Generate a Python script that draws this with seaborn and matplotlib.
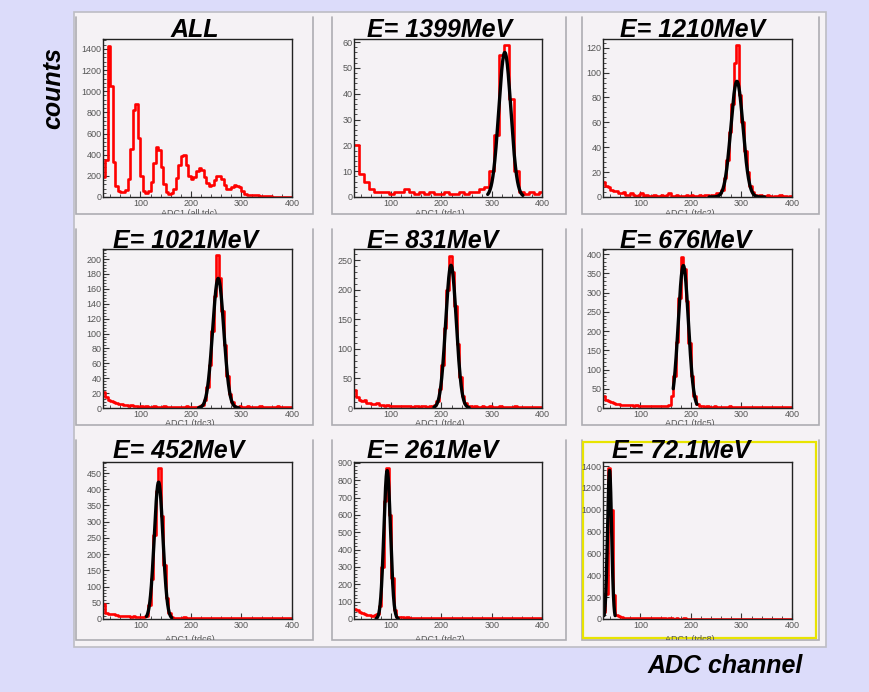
import numpy as np
import pandas as pd
import seaborn as sns
import matplotlib
matplotlib.use("Agg")
import matplotlib.pyplot as plt
from matplotlib.patches import Rectangle
from matplotlib.lines import Line2D
from matplotlib.ticker import MultipleLocator, AutoMinorLocator

sns.set_theme(style="white")
plt.rcParams["font.family"] = ["Liberation Sans", "DejaVu Sans"]

# ---------------------------------------------------------------- data
TITLES = ["ALL", "E= 1399MeV", "E= 1210MeV", "E= 1021MeV", "E= 831MeV",
          "E= 676MeV", "E= 452MeV", "E= 261MeV", "E= 72.1MeV"]
AXIS_TITLES = ["ADC1 (all tdc)", "ADC1 (tdc1)", "ADC1 (tdc2)", "ADC1 (tdc3)",
               "ADC1 (tdc4)", "ADC1 (tdc5)", "ADC1 (tdc6)", "ADC1 (tdc7)",
               "ADC1 (tdc8)"]

# histogram binning (ADC channels): first edge and bin width per pad
BIN_START = 25
BIN_WIDTH = [5, 10, 5, 5, 5, 5, 5, 5, 5]

counts_all = [190, 350, 1430, 1050, 330, 100, 55, 45, 50, 70,
              170, 450, 820, 880, 560, 200, 55, 40, 60, 140,
              320, 470, 440, 280, 120, 45, 30, 35, 80, 180,
              300, 390, 400, 300, 200, 170, 190, 245, 270, 255,
              190, 130, 105, 115, 160, 195, 200, 170, 115, 80,
              75, 95, 110, 105, 90, 60, 30, 22, 20, 22,
              20, 15, 10, 8, 6, 5, 5, 4, 3, 3,
              3, 2, 2, 2, 2]
counts_tdc1 = [20, 9, 6, 3, 2, 2, 2, 1, 2, 2,
               3, 2, 1, 2, 1, 2, 1, 1, 2, 1,
               1, 2, 1, 2, 2, 3, 4, 10, 24, 55,
               59, 38, 10, 2, 1, 2, 1, 2]
counts_tdc2 = [12, 9, 8, 6, 5, 5, 3, 3, 4, 2, 2, 3, 2, 1, 2, 3, 1, 2, 1, 1,
               2, 1, 1, 2, 1, 2, 3, 1, 1, 2, 1, 1, 1, 2, 1, 2, 1, 1, 2, 1,
               2, 2, 1, 2, 2,
               3, 3, 6, 15, 30, 52, 75, 108, 122, 82, 60, 37, 20, 9, 4, 2,
               1, 2, 1, 1, 2, 1, 0, 1, 1, 2, 1, 1, 0, 1]
counts_tdc3 = [22, 15, 11, 10, 8, 7, 6, 5, 4, 4, 3, 4, 3, 3, 2, 3, 2, 3, 2, 2,
               3, 2, 1, 2, 3, 2, 2, 1, 2, 2, 1, 2, 2, 3, 2, 1, 2, 2,
               3, 4, 11, 28, 58, 104, 150, 205, 175, 130, 84, 43, 19, 8, 3,
               2, 3, 2, 2, 3, 2, 1, 2, 2, 3, 2, 1, 2, 2, 1, 2, 3, 2, 1, 2,
               1, 2]
counts_tdc4 = [30, 18, 14, 12, 13, 9, 8, 7, 6, 8, 5, 5, 4, 5, 4, 3, 4, 3, 4, 3,
               3, 4, 3, 2, 3, 3, 2, 3, 3, 2, 3,
               4, 5, 12, 32, 72, 135, 200, 257, 230, 172, 108, 52, 21, 8, 4,
               3, 2, 3, 2, 2, 3, 2, 2, 3, 2, 1, 2, 3, 2, 2, 1, 2, 2, 3, 2,
               2, 1, 2, 2, 2, 1, 2, 2, 1]
counts_tdc5 = [32, 22, 17, 15, 12, 11, 10, 9, 9, 8, 7, 7, 6, 7, 6, 5, 6, 5, 5,
               6, 5, 4, 5, 4, 5,
               5, 9, 31, 82, 172, 285, 393, 362, 278, 168, 82, 31, 10, 4,
               4, 3, 4, 3, 3, 4, 3, 3, 2, 3, 3, 4, 3, 2, 3, 3, 2, 3, 3, 2,
               3, 2, 3, 3, 2, 2, 3, 2, 2, 3, 2, 2, 3, 2, 2, 2]
counts_tdc6 = [45, 18, 15, 14, 16, 12, 10, 10, 8, 9, 8, 7, 8, 6, 7, 7,
               6, 10, 42, 122, 258, 395, 466, 318, 168, 66, 18, 5,
               4, 4, 3, 4, 5, 3, 4, 3, 3, 4, 3, 3, 4, 3, 2, 3, 3, 4, 3, 3,
               2, 3, 3, 4, 3, 2, 3, 3, 2, 3, 3, 2, 4, 3, 2, 3, 3, 2, 3, 2,
               3, 3, 2, 3, 2, 2, 3]
counts_tdc7 = [60, 50, 40, 32, 27, 24, 22, 20,
               25, 28, 75, 300, 680, 869, 600, 235, 52, 12, 9,
               9, 8, 9, 8, 7, 8, 7, 6, 7, 6, 6, 7, 5, 6, 6, 5, 6, 5, 5, 6,
               5, 4, 5, 5, 4, 5, 4, 5, 4, 4, 5, 4, 4, 5, 4, 3, 4, 4, 3, 4,
               4, 3, 4, 3, 4, 3, 3, 4, 3, 3, 4, 3, 3, 3, 4, 3]
counts_tdc8 = [60, 230, 1380, 1000, 220, 40, 25,
               15, 12, 10, 9, 8, 8, 7, 8, 6, 7, 6, 6, 5, 6, 5, 5, 6, 5, 4, 5,
               5, 4, 5, 4, 4, 5, 4, 4, 3, 4, 4, 3, 4, 3, 4, 3, 3, 4, 3, 3,
               4, 3, 3, 2, 3, 3, 2, 3, 3, 2, 3, 2, 3, 3, 2, 2, 3, 2, 3, 2,
               2, 3, 2, 2, 3, 2, 2, 2]
COUNTS = [counts_all, counts_tdc1, counts_tdc2, counts_tdc3, counts_tdc4,
          counts_tdc5, counts_tdc6, counts_tdc7, counts_tdc8]

# gaussian fits of the peaks (tdc1 .. tdc8)
FIT_AMP = [56, 93, 174, 241, 370, 422, 856, 1360]
FIT_MEAN = [326, 291, 254, 219, 185, 136, 92, 39]
FIT_SIGMA = [12, 12, 11, 10.5, 10, 8.5, 6.5, 4]
FIT_LO = [292, 236, 215, 185, 165, 112, 70, 28]
FIT_HI = [362, 346, 295, 255, 212, 162, 114, 50]

Y_MAX = [1494, 61.2, 127, 213.5, 268.6, 413, 484, 905, 1437]
Y_STEP = [200, 10, 20, 20, 50, 50, 50, 100, 200]
X_MIN, X_MAX = 26, 400

# ---------------------------------------------------------------- layout
W, H = 869, 692
BG = "#dcdcfa"
PAD = "#f5f2f5"
EDGE = "#adadb2"

fig = plt.figure(figsize=(W / 100, H / 100), dpi=100)
fig.patch.set_facecolor(BG)


def fx(px):
    return px / W


def fy(py):
    return 1 - py / H


def fig_line(xs, ys, **kw):
    fig.add_artist(Line2D([fx(x) for x in xs], [fy(y) for y in ys],
                          transform=fig.transFigure, **kw))


# canvas behind the pads
fig.add_artist(Rectangle((fx(74), fy(647)), (826 - 74) / W, (647 - 12) / H,
                         transform=fig.transFigure, facecolor=PAD,
                         edgecolor="#bdbdc4", lw=1.2, zorder=-10))

PAD_COLS = [(76, 313), (332, 566), (582, 819)]
PAD_ROWS = [(17, 214), (229, 425), (440, 640)]
AX_COLS = [(103, 292), (354, 542), (603, 792)]
AX_ROWS = [(39, 197), (249, 408), (462, 619)]
TITLE_X = [195, 367, 620, 113, 367, 620, 113, 367, 612]
TITLE_BASE = [37, 248.5, 458]

label_font = dict(family="Liberation Sans", size=6.5, color="#555555")
title_font = dict(family="Liberation Sans", size=18, weight="bold",
                  style="italic", color="black")

for k in range(9):
    r, c = divmod(k, 3)
    px0, px1 = PAD_COLS[c]
    py0, py1 = PAD_ROWS[r]
    pad = Rectangle((fx(px0), fy(py1)), (px1 - px0) / W, (py1 - py0) / H,
                    transform=fig.transFigure, facecolor=PAD,
                    edgecolor="none", zorder=-9)
    fig.add_artist(pad)
    # pad border: grey on the sides and bottom
    fig_line([px0, px0, px1, px1], [py0, py1, py1, py0], color=EDGE,
             lw=1.2, zorder=-8, solid_joinstyle="miter")
    if k == 8:
        fig.add_artist(Rectangle((fx(px0 + 1), fy(py1 - 2)),
                                 (px1 - px0 - 4) / W, (py1 - py0 - 4) / H,
                                 transform=fig.transFigure, facecolor="none",
                                 edgecolor="#e8e400", lw=1.6, zorder=-7))

    ax0, ax1 = AX_COLS[c]
    ay0, ay1 = AX_ROWS[r]
    ax = fig.add_axes([fx(ax0), fy(ay1), (ax1 - ax0) / W, (ay1 - ay0) / H])
    ax.set_facecolor("none")

    width = BIN_WIDTH[k]
    values = [float(v) for v in COUNTS[k]]
    edges = [BIN_START + width * i for i in range(len(values) + 1)]
    df = pd.DataFrame({"adc": [e + width / 2 for e in edges[:-1]],
                       "counts": values})
    sns.histplot(data=df, x="adc", weights="counts", bins=edges,
                 element="step", fill=False, color="#ff0000",
                 linewidth=1.9, ax=ax)

    if k > 0:
        j = k - 1
        xf = np.linspace(FIT_LO[j], FIT_HI[j], 200)
        yf = FIT_AMP[j] * np.exp(-0.5 * ((xf - FIT_MEAN[j]) / FIT_SIGMA[j]) ** 2)
        sns.lineplot(x=xf, y=yf, color="black", linewidth=2.4, ax=ax)

    ax.set(xlim=(X_MIN, X_MAX), ylim=(0, Y_MAX[k]), xlabel="", ylabel="")
    ax.xaxis.set_major_locator(MultipleLocator(100))
    ax.xaxis.set_minor_locator(AutoMinorLocator(5))
    ax.yaxis.set_major_locator(MultipleLocator(Y_STEP[k]))
    ax.yaxis.set_minor_locator(AutoMinorLocator(5))
    ax.tick_params(which="both", direction="in", bottom=True, left=True,
                   top=False, right=False, color="#333333",
                   labelsize=6.5, labelcolor="#555555", pad=1.2)
    ax.tick_params(which="major", length=4.5, width=0.8)
    ax.tick_params(which="minor", length=2.2, width=0.6)
    for lab in ax.get_xticklabels() + ax.get_yticklabels():
        lab.set_family("Liberation Sans")
    for s in ax.spines.values():
        s.set_color("#222222")
        s.set_linewidth(1.0)
    ax.grid(False)

    # axis title, partly hidden below the pad edge
    t = fig.text(fx((ax0 + ax1) / 2 - 8), fy(py1 - 1), AXIS_TITLES[k],
                 ha="center", va="center", **label_font)
    t.set_clip_path(pad)

    fig.text(fx(TITLE_X[k]), fy(TITLE_BASE[r]), TITLES[k],
             ha="center" if k == 0 else "left", va="baseline", **title_font)

fig.text(fx(53), fy(88), "counts", rotation=90, ha="center", va="center",
         **title_font)
fig.text(fx(648), fy(673), "ADC channel", ha="left", va="baseline",
         **title_font)

fig.savefig("out.png", dpi=100, facecolor=fig.get_facecolor())
